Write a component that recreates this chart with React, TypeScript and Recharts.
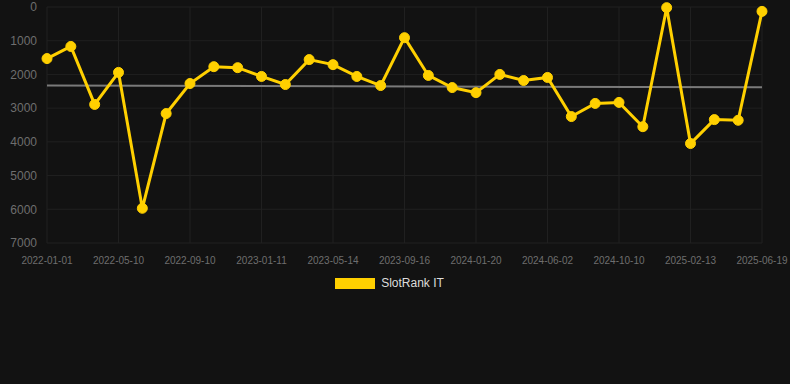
import { LineChart, Line, XAxis, YAxis, CartesianGrid, Legend } from "recharts";

const dates = [
  "2022-01-01", "2022-02-11", "2022-03-26", "2022-05-10", "2022-06-20", "2022-07-31",
  "2022-09-10", "2022-10-21", "2022-12-01", "2023-01-11", "2023-02-21", "2023-04-03",
  "2023-05-14", "2023-06-24", "2023-08-05", "2023-09-16", "2023-10-28", "2023-12-09",
  "2024-01-20", "2024-03-04", "2024-04-18", "2024-06-02", "2024-07-15", "2024-08-27",
  "2024-10-10", "2024-11-21", "2025-01-02", "2025-02-13", "2025-03-27", "2025-05-08",
  "2025-06-19",
];

const rankIT = [
  1530, 1170, 2890, 1940, 5970, 3160, 2270, 1770, 1800, 2060, 2300, 1560,
  1710, 2060, 2330, 910, 2030, 2390, 2540, 2000, 2180, 2090, 3250, 2860,
  2830, 3550, 20, 4050, 3340, 3360, 130,
];

// linear trend: only the two end values, joined
const trendStart = 2330;
const trendEnd = 2380;

const yTicks = [0, 1000, 2000, 3000, 4000, 5000, 6000, 7000];

const data = dates.map((d, i) => ({
  date: d,
  rank: rankIT[i],
  trend: i === 0 ? trendStart : i === dates.length - 1 ? trendEnd : null,
}));

const YELLOW = "#FFD000";

const LegendContent = () => (
  <div
    style={{
      display: "flex",
      justifyContent: "center",
      alignItems: "center",
      height: 20,
      paddingRight: 11,
    }}
  >
    <span
      style={{
        width: 40,
        height: 11,
        background: YELLOW,
        display: "inline-block",
        marginRight: 6,
      }}
    />
    <span style={{ color: "#dddddd", fontSize: 12 }}>SlotRank IT</span>
  </div>
);

export default function App() {
  return (
    <div
      style={{
        position: "absolute",
        top: 0,
        left: 0,
        width: 790,
        height: 384,
        background: "#121212",
        fontFamily: "'Liberation Sans', Arial, sans-serif",
      }}
    >
      <LineChart
        width={790}
        height={384}
        data={data}
        margin={{ top: 7, right: 28, left: 0, bottom: 91 }}
      >
        <CartesianGrid stroke="#202020" strokeWidth={1} />
        <XAxis
          dataKey="date"
          interval={2}
          height={30}
          tick={{ fill: "#6e6e6e", fontSize: 10 }}
          tickLine={false}
          axisLine={false}
          tickMargin={8}
        />
        <YAxis
          reversed
          domain={[0, 7000]}
          ticks={yTicks}
          interval={0}
          width={47}
          tick={{ fill: "#6e6e6e", fontSize: 12 }}
          tickLine={false}
          axisLine={false}
          tickMargin={4}
        />
        <Legend
          verticalAlign="bottom"
          wrapperStyle={{ left: 0, width: 790 }}
          content={<LegendContent />}
        />
        <Line
          dataKey="trend"
          stroke="#7a7a7a"
          strokeWidth={2}
          dot={false}
          connectNulls
          isAnimationActive={false}
          legendType="none"
        />
        <Line
          dataKey="rank"
          name="SlotRank IT"
          stroke={YELLOW}
          strokeWidth={3}
          dot={{ r: 5, fill: YELLOW, stroke: YELLOW, strokeWidth: 1 }}
          activeDot={false}
          isAnimationActive={false}
        />
      </LineChart>
    </div>
  );
}
